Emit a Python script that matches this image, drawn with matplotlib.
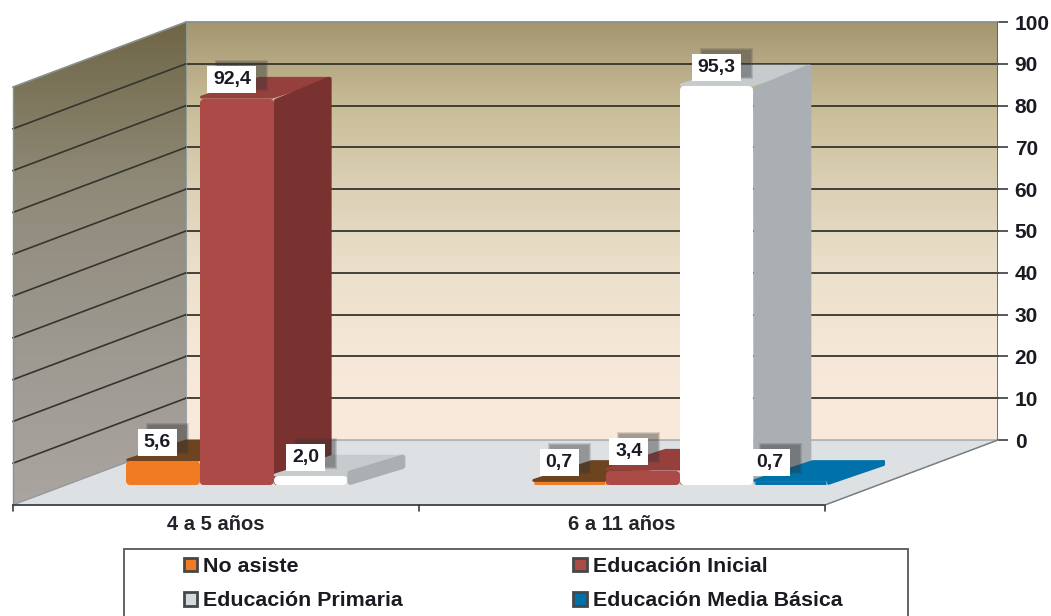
import matplotlib
matplotlib.use("Agg")
import numpy as np
import matplotlib.pyplot as plt
from matplotlib.colors import LinearSegmentedColormap
from matplotlib.patches import Patch, Polygon, Rectangle
from matplotlib.transforms import ScaledTranslation

plt.rcParams['font.family'] = ['Liberation Sans', 'DejaVu Sans']
plt.rcParams['font.weight'] = 'bold'

# datos
categorias = ['4 a 5 años', '6 a 11 años']
series = ['No asiste', 'Educación Inicial', 'Educación Primaria', 'Educación Media Básica']
no_asiste = [5.6, 0.7]
inicial = [92.4, 3.4]
primaria = [2.0, 95.3]
media_basica = [0.0, 0.7]
valores = [no_asiste, inicial, primaria, media_basica]
ticks_y = list(range(0, 101, 10))

# colores: frente, lado, tapa
col_frente = ['#f07b22', '#ac4a48', '#ffffff', '#0071a9']
col_lado = ['#c0601a', '#7a3230', '#a9afb2', '#0071a9']
col_tapa = ['#6e4320', '#96403e', '#c6cbce', '#0071a9']
col_leyenda = ['#f07b22', '#ac4a48', '#d6d9db', '#0071a9']

# desplazamiento de cada etiqueta respecto al centro de su barra (px)
etq_dx = [[-6, -5, -5, 0], [-10, -14, 0, -20]]
etq_dy = 19

# perspectiva: pared de fondo -> borde frontal del piso
DX = 173 / 406
DY = 65 / 4.18
F_FRENTE = 0.69
F_FONDO = 0.355
ANCHO = 0.1815
INICIO = 0.147
ESC = np.array([406, 4.18])  # px por unidad de datos


def proy(x, v, f):
    return x - DX * f, v - DY * f


def encoger(pts, r):
    # mete los vertices r px hacia el centro, el borde grueso redondea las esquinas
    p = np.array(pts)
    c = p.mean(axis=0)
    return p - np.sign(p - c) * r / ESC


fig = plt.figure(figsize=(10.51, 6.16), dpi=100, facecolor='white')
ax = fig.add_axes([186 / 1051, 1 - 440 / 616, 812 / 1051, 418 / 616])
ax.patch.set_visible(False)
for s in ax.spines.values():
    s.set_visible(False)

# paredes con degradado
g = np.linspace(0, 1, 256).reshape(-1, 1)
cm_fondo = LinearSegmentedColormap.from_list('fondo', ['#faeadc', '#f6e8d8', '#ebe0cb', '#dcd1b6', '#c9bd98', '#a39670'])
cm_izq = LinearSegmentedColormap.from_list('izq', ['#aaa5a0', '#9d9890', '#8f8a78', '#6f6645'])

fondo = Polygon([(0, 0), (2, 0), (2, 100), (0, 100)], closed=True, fc='none', ec='none', zorder=1)
ax.add_patch(fondo)
im = ax.imshow(g, extent=(0, 2, 0, 100), origin='lower', aspect='auto', cmap=cm_fondo, zorder=1)
im.set_clip_path(fondo)

esq = [proy(0, 0, 0), proy(0, 100, 0), proy(0, 100, 1), proy(0, 0, 1)]
izq = Polygon(esq, closed=True, fc='none', ec='none', zorder=1, clip_on=False)
ax.add_patch(izq)
im2 = ax.imshow(g, extent=(-DX, 0, -DY, 100), origin='lower', aspect='auto', cmap=cm_izq, zorder=1)
im2.set_clip_path(izq)
im2.set_clip_box(fig.bbox)
ax.set_xlim(0, 2)
ax.set_ylim(0, 100)

# piso
piso = [proy(0, 0, 0), proy(2, 0, 0), proy(2, 0, 1), proy(0, 0, 1)]
ax.add_patch(Polygon(piso, closed=True, fc='#dde1e3', ec='#8e9396', lw=0.8, zorder=2, clip_on=False))

# lineas de la grilla
for t in ticks_y:
    c = '#8a8f90' if t == 100 else '#35352f'
    if t > 0:
        ax.plot([0, 2], [t, t], color=c, lw=1.3, zorder=3, clip_on=False)
        x0, y0 = proy(0, t, 1)
        ax.plot([0, x0], [t, y0], color=c, lw=1.2, zorder=3, clip_on=False)

# aristas
ax.plot([0, 0], [0, 100], color='#8a979c', lw=1.2, zorder=3)
x0, y0 = proy(0, 0, 1)
ax.plot([x0, x0], [y0, 100 - DY], color='#8a8f90', lw=1.0, zorder=3, clip_on=False)
x1, y1 = proy(2, 0, 1)
ax.plot([x0, x1], [y0, y1], color='#3a3d3f', lw=1.2, zorder=3, clip_on=False)
ax.plot([2, x1], [0, y1], color='#7b8083', lw=1.0, zorder=3, clip_on=False)
ax.plot([2, 2], [0, 100], color='#55585a', lw=1.2, zorder=3)

# marcas del eje x y categorias
for i in range(3):
    xt, yt = proy(i, 0, 1)
    ax.annotate('', xy=(xt, yt), xytext=(0, -6), textcoords='offset pixels',
                arrowprops=dict(arrowstyle='-', color='#3a3d3f', lw=1.2, shrinkA=0, shrinkB=0),
                annotation_clip=False, zorder=3)
for i, cat in enumerate(categorias):
    xt, yt = proy(i + 0.5, 0, 1)
    ax.annotate(cat, xy=(xt, yt), xytext=(0, -19), textcoords='offset pixels',
                ha='center', va='center', fontsize=14.5, color='#22242a', annotation_clip=False)

# eje y
ax.yaxis.tick_right()
ax.set_yticks(ticks_y)
ax.tick_params(axis='y', length=7.5, width=1.2, color='#3a3d3f', pad=4.5, labelsize=15, labelcolor='#1a1a22')
ax.set_xticks([])

# barras
orden = 10
for i in range(len(categorias)):
    for j in range(len(series)):
        v = valores[j][i]
        if v <= 0:
            continue
        xa = i + INICIO + j * ANCHO
        xb = xa + ANCHO
        frente = [proy(xa, 0, F_FRENTE), proy(xb, 0, F_FRENTE), proy(xb, v, F_FRENTE), proy(xa, v, F_FRENTE)]
        tapa = [proy(xa, v, F_FRENTE), proy(xb, v, F_FRENTE), proy(xb, v, F_FONDO), proy(xa, v, F_FONDO)]
        lado = [proy(xb, 0, F_FRENTE), proy(xb, 0, F_FONDO), proy(xb, v, F_FONDO), proy(xb, v, F_FRENTE)]
        r_frente = min(4, v * 4.18 / 2)
        for cara, col, r in [(tapa, col_tapa[j], 1.5), (lado, col_lado[j], min(3, r_frente)), (frente, col_frente[j], r_frente)]:
            ax.add_patch(Polygon(encoger(cara, r), closed=True, fc=col, ec=col, lw=2 * r * 0.72,
                                 joinstyle='round', zorder=orden, clip_on=False))
            orden += 1

# etiquetas de valores
for i in range(len(categorias)):
    for j in range(len(series)):
        v = valores[j][i]
        if v <= 0:
            continue
        xc, yc = proy(i + INICIO + (j + 0.5) * ANCHO, v, F_FRENTE)
        txt = f'{v:.1f}'.replace('.', ',')
        w = 49 if v >= 10 else 39
        h = 27
        tr = ScaledTranslation(xc, yc, ax.transData)
        # sombra difusa detras de la caja
        for m in [2, 1, 0]:
            ax.add_patch(Rectangle((etq_dx[i][j] + 10 - w / 2 - m, etq_dy + 4 - h / 2 - m), w + 2 * m, h + 2 * m,
                                   transform=tr, fc='#333333', ec='none', alpha=0.17, zorder=99, clip_on=False))
        ax.add_patch(Rectangle((etq_dx[i][j] - w / 2, etq_dy - h / 2), w, h, transform=tr, fc='white', ec='none',
                               zorder=100, clip_on=False))
        ax.annotate(txt, xy=(xc, yc), xytext=(etq_dx[i][j], etq_dy), textcoords='offset pixels',
                    ha='center', va='center', fontsize=14, color='#1a1a22', zorder=101, annotation_clip=False)

# leyenda
fig.add_artist(Rectangle((124 / 1051, -0.05), 784 / 1051, 1 - 549 / 616 + 0.05, transform=fig.transFigure,
                         fc='white', ec='#55585a', lw=1.3))
h = [Patch(fc=col_leyenda[j], ec='#45484a', lw=2, label=series[j]) for j in [0, 2, 1, 3]]
fig.legend(handles=h, ncol=2, loc='upper left', bbox_to_anchor=(184 / 1051, 1 - 557 / 616),
           frameon=False, fontsize=15.4, handlelength=0.62, handleheight=0.62, handletextpad=0.28,
           columnspacing=7.97, labelspacing=0.72, borderpad=0, borderaxespad=0, labelcolor='#1a1a22')

fig.savefig('out.png', dpi=100)
